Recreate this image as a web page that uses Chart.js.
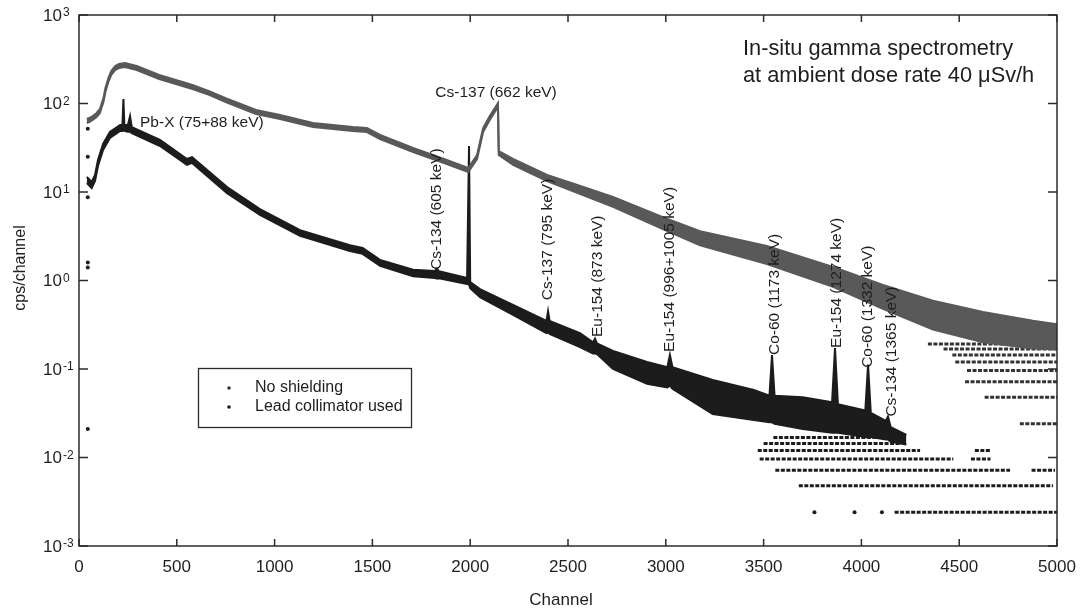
<!DOCTYPE html>
<html>
<head>
<meta charset="utf-8">
<script src="https://cdn.jsdelivr.net/npm/chart.js@4.4.1/dist/chart.umd.min.js"></script>
<style>
  html, body { margin: 0; padding: 0; background: #fff; }
</style>
</head>
<body>
<canvas id="spectrumChart" width="1085" height="611"></canvas>
<script>
/**
 *  In-situ gamma spectrum, with and without lead collimator (log scale)
 */

// axis ticks
const xTicks = [0, 500, 1000, 1500, 2000, 2500, 3000, 3500, 4000, 4500, 5000];
const yExponents = [3, 2, 1, 0, -1, -2, -3];

// "No shielding" band, upper / lower edge
const noShieldCh = [40, 55, 70, 90, 107, 115, 125, 135, 150, 165, 185, 205, 235, 295, 410, 580, 665, 750, 905, 1028, 1196, 1400, 1472, 1539,
    1708, 1880, 1990, 2035, 2066, 2100, 2142, 2146, 2219, 2393, 2563, 2730, 2985, 3175, 3517, 3855, 4110, 4366, 4622, 4877, 5000];
const noShieldHi = [66.8, 69, 72.2, 78.1, 86.7, 98.6, 115, 150, 194, 233, 265, 279, 287, 265, 210, 162, 138, 115, 84.5, 74.1, 60.2, 54.2, 52.8, 44.1,
    31.4, 23.0, 18.7, 26.2, 52.8, 72.2, 101, 29.0, 23.6, 15.6, 11.7, 8.8, 5.2, 3.6, 2.45, 1.42, 0.89, 0.59, 0.44, 0.35, 0.32];
const noShieldLo = [60.2, 62, 65.1, 70.4, 78.1, 88.9, 104, 135, 175, 210, 239, 252, 258, 239, 189, 146, 125, 104, 76.1, 66.8, 54.2, 48.9, 47.6, 39.7,
    28.3, 20.7, 16.8, 23.6, 47.6, 65.1, 91.3, 26.2, 20.2, 13.3, 9.5, 6.8, 3.8, 2.5, 1.53, 0.85, 0.48, 0.28, 0.20, 0.17, 0.166];

// "Lead collimator used" band
const leadCh = [40, 65, 82, 97, 123, 158, 210, 222, 227, 232, 250, 261, 270, 414, 552, 578, 757, 925, 1130, 1385,
    1450, 1539, 1708, 1820, 1830, 1840, 1984, 1994, 2000, 2050, 2219, 2390, 2398, 2406, 2561, 2628, 2638, 2648, 2730, 2904,
    3008, 3021, 3034, 3240, 3450, 3530, 3543, 3556, 3700, 3850, 3865, 3880, 4020, 4034, 4048, 4125, 4136, 4150, 4230];
const leadHi = [14.8, 13.0, 15.6, 23.0, 34.9, 47.6, 57.2, 57, 112, 57, 57, 72, 54.2, 38.7, 23.6, 24.8, 11.4, 6.4, 3.7, 2.5,
    2.33, 1.71, 1.32, 1.28, 1.36, 1.27, 1.07, 33, 0.96, 0.80, 0.53, 0.35, 0.45, 0.35, 0.255, 0.20, 0.22, 0.195, 0.160, 0.12,
    0.105, 0.144, 0.105, 0.075, 0.058, 0.05, 0.144, 0.05, 0.048, 0.042, 0.173, 0.04, 0.034, 0.112, 0.032, 0.026, 0.029, 0.022, 0.018];
const leadLo = [12.6, 11.1, 13.3, 19.7, 29.8, 40.7, 48.9, 49, 50, 49, 48, 48, 46.4, 33.1, 20.2, 21.3, 9.7, 5.5, 3.2, 2.15,
    2.0, 1.46, 1.12, 1.07, 1.05, 1.06, 0.91, 0.9, 0.82, 0.65, 0.41, 0.255, 0.26, 0.25, 0.177, 0.15, 0.15, 0.148, 0.100, 0.068,
    0.062, 0.065, 0.06, 0.031, 0.0265, 0.025, 0.025, 0.024, 0.021, 0.019, 0.019, 0.019, 0.017, 0.017, 0.017, 0.016, 0.016, 0.015, 0.014];

// count-quantised rows at the high channel end (level, first and last channel)
const noShieldRowLevel = [0.024, 0.048, 0.072, 0.096, 0.12, 0.144, 0.168, 0.192];
const noShieldRowFrom = [4810, 4630, 4530, 4540, 4480, 4465, 4420, 4340];
const noShieldRowTo = [5000, 5000, 5000, 5000, 5000, 5000, 5000, 4965];

const leadRowLevel = [0.0024, 0.0048, 0.0072, 0.0072, 0.0096, 0.0096, 0.012, 0.012, 0.0144, 0.0168];
const leadRowFrom = [4170, 3680, 3560, 4870, 3480, 4560, 3470, 4580, 3500, 3550];
const leadRowTo = [5000, 4980, 4760, 4990, 4470, 4660, 4300, 4660, 4200, 4170];

// single stray points
const strayCh = [45, 45, 45, 45, 45, 45, 3760, 3965, 4105];
const strayVal = [52, 25, 8.7, 1.6, 1.4, 0.021, 0.0024, 0.0024, 0.0024];

// peak labels: text, channel and value where the label starts
const peakText = ['Cs-134 (605 keV)', 'Cs-137 (795 keV)', 'Eu-154 (873 keV)', 'Eu-154 (996+1005 keV)',
    'Co-60 (1173 keV)', 'Eu-154 (1274 keV)', 'Co-60 (1332 keV)', 'Cs-134 (1365 keV)'];
const peakCh = [1830, 2398, 2653, 3021, 3558, 3875, 4034, 4156];
const peakVal = [1.32, 0.60, 0.23, 0.156, 0.144, 0.173, 0.103, 0.029];

const legendLabels = ['No shielding', 'Lead collimator used'];

const FONT = '"Liberation Sans", Arial, Helvetica, sans-serif';
const GREY = '#595959';
const BLACK = '#1c1c1c';

const toPoints = (xs, ys) => xs.map((x, i) => ({x: x, y: ys[i]}));

let datasets = [
    {
        label: legendLabels[0] + ' hi',
        data: toPoints(noShieldCh, noShieldHi),
        borderColor: GREY, borderWidth: 2, pointRadius: 0, fill: false
    },
    {
        label: legendLabels[0],
        data: toPoints(noShieldCh, noShieldLo),
        borderColor: GREY, borderWidth: 2, pointRadius: 0,
        fill: '-1', backgroundColor: GREY
    },
    {
        label: legendLabels[1] + ' hi',
        data: toPoints(leadCh, leadHi),
        borderColor: BLACK, borderWidth: 2, pointRadius: 0, fill: false
    },
    {
        label: legendLabels[1],
        data: toPoints(leadCh, leadLo),
        borderColor: BLACK, borderWidth: 2, pointRadius: 0,
        fill: '-1', backgroundColor: BLACK
    }
];

noShieldRowLevel.forEach((lv, i) => {
    datasets.push({
        data: [{x: noShieldRowFrom[i], y: lv}, {x: noShieldRowTo[i], y: lv}],
        borderColor: '#333', borderWidth: 3, borderDash: [4, 1.5], pointRadius: 0, fill: false
    });
});
leadRowLevel.forEach((lv, i) => {
    datasets.push({
        data: [{x: leadRowFrom[i], y: lv}, {x: leadRowTo[i], y: lv}],
        borderColor: BLACK, borderWidth: 3, borderDash: [4, 1.5], pointRadius: 0, fill: false
    });
});
datasets.push({
    data: toPoints(strayCh, strayVal),
    showLine: false, pointRadius: 2, pointBackgroundColor: BLACK, pointBorderWidth: 0
});

const decor = {
    id: 'decor',
    afterDraw(chart) {
        const ctx = chart.ctx;
        const a = chart.chartArea;
        const xs = chart.scales.x;
        const ys = chart.scales.y;
        ctx.save();

        // frame and inward ticks
        ctx.strokeStyle = '#2b2b2b';
        ctx.lineWidth = 1.5;
        ctx.strokeRect(a.left, a.top, a.right - a.left, a.bottom - a.top);
        ctx.beginPath();
        xTicks.forEach(v => {
            const px = xs.getPixelForValue(v);
            ctx.moveTo(px, a.bottom); ctx.lineTo(px, a.bottom - 7);
            ctx.moveTo(px, a.top); ctx.lineTo(px, a.top + 7);
        });
        yExponents.forEach(e => {
            const py = ys.getPixelForValue(Math.pow(10, e));
            ctx.moveTo(a.left, py); ctx.lineTo(a.left + 9, py);
            ctx.moveTo(a.right, py); ctx.lineTo(a.right - 9, py);
        });
        ctx.stroke();

        // tick labels
        ctx.fillStyle = '#1e1e1e';
        ctx.font = '17px ' + FONT;
        ctx.textAlign = 'center';
        ctx.textBaseline = 'middle';
        xTicks.forEach(v => ctx.fillText(String(v), xs.getPixelForValue(v), a.bottom + 21));
        yExponents.forEach(e => {
            const py = ys.getPixelForValue(Math.pow(10, e));
            ctx.font = '17px ' + FONT;
            ctx.textAlign = 'right';
            ctx.textBaseline = 'middle';
            ctx.fillText('10', a.left - 17, py + 1);
            ctx.font = '12px ' + FONT;
            ctx.textAlign = 'left';
            ctx.textBaseline = 'top';
            ctx.fillText(String(e), a.left - 16, py - 8);
        });

        // axis titles
        ctx.font = '17px ' + FONT;
        ctx.textAlign = 'center';
        ctx.textBaseline = 'middle';
        ctx.fillText('Channel', 561, 600);
        ctx.save();
        ctx.translate(21, 268);
        ctx.rotate(-Math.PI / 2);
        ctx.font = '16px ' + FONT;
        ctx.fillText('cps/channel', 0, 0);
        ctx.restore();

        // legend
        ctx.lineWidth = 1.3;
        ctx.strokeRect(198.5, 368.5, 213, 59);
        ctx.font = '16px ' + FONT;
        ctx.textAlign = 'left';
        legendLabels.forEach((t, i) => {
            const ly = 388 + i * 19;
            ctx.beginPath();
            ctx.arc(229, ly, 1.8, 0, Math.PI * 2);
            ctx.fillStyle = i === 0 ? '#333' : BLACK;
            ctx.fill();
            ctx.fillStyle = '#1e1e1e';
            ctx.fillText(t, 255, ly);
        });

        // text notes
        ctx.font = '21.8px ' + FONT;
        ctx.fillText('In-situ gamma spectrometry', 743, 49);
        ctx.fillText('at ambient dose rate 40 \u03bcSv/h', 743, 76);
        ctx.font = '15.5px ' + FONT;
        ctx.fillText('Pb-X (75+88 keV)', xs.getPixelForValue(312), ys.getPixelForValue(60));
        ctx.textAlign = 'center';
        ctx.fillText('Cs-137 (662 keV)', xs.getPixelForValue(2132), ys.getPixelForValue(131));

        // rotated peak labels
        ctx.textAlign = 'left';
        peakText.forEach((t, i) => {
            ctx.save();
            ctx.translate(xs.getPixelForValue(peakCh[i]), ys.getPixelForValue(peakVal[i]));
            ctx.rotate(-Math.PI / 2);
            ctx.fillText(t, 0, 0);
            ctx.restore();
        });
        ctx.restore();
    }
};

new Chart(document.getElementById('spectrumChart'), {
    type: 'line',
    data: { datasets: datasets },
    options: {
        responsive: false,
        animation: false,
        devicePixelRatio: 1,
        events: [],
        layout: { padding: { left: 79, top: 15, right: 28, bottom: 65 } },
        elements: { line: { tension: 0 } },
        scales: {
            x: { type: 'linear', min: 0, max: 5000, display: false },
            y: { type: 'logarithmic', min: 0.001, max: 1000, display: false }
        },
        plugins: {
            legend: { display: false },
            tooltip: { enabled: false }
        }
    },
    plugins: [decor]
});
</script>
</body>
</html>
